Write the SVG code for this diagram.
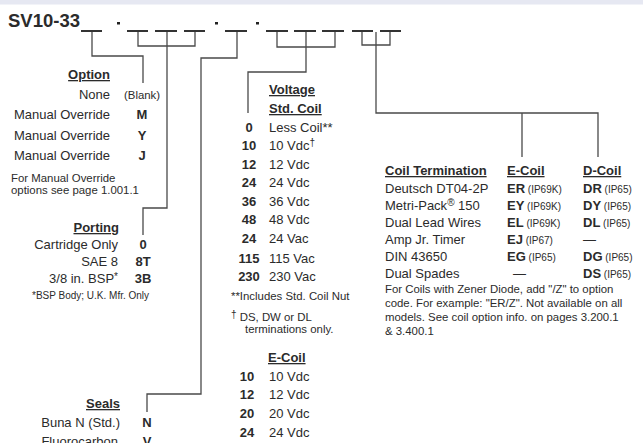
<svg xmlns="http://www.w3.org/2000/svg" width="643" height="443" viewBox="0 0 643 443">
<style>
text{font-family:"Liberation Sans",Arial,sans-serif;fill:#2b2b2b;font-size:13px}
.b{font-weight:bold}
.h{font-weight:bold;text-decoration:underline}
.s{font-size:10px}
.n{font-size:11.4px}
.e{text-anchor:end}
.m{text-anchor:middle}
.ln{fill:none;stroke:#4a4a4a;stroke-width:1.3}
.bl{stroke:#333;stroke-width:2}
</style>
<rect x="0" y="0" width="643" height="443" fill="#fff"/>
<rect x="0" y="0" width="643" height="4.5" fill="#e6e8f2"/>
<g id="part-number">
<text x="8" y="27" class="b" style="font-size:18.5px">SV10-33</text>
<g class="bl">
<line x1="81" y1="31" x2="102" y2="31"/>
<line x1="127" y1="31" x2="148" y2="31"/>
<line x1="155" y1="31" x2="177" y2="31"/>
<line x1="184" y1="31" x2="205" y2="31"/>
<line x1="225" y1="31" x2="247" y2="31"/>
<line x1="266" y1="31" x2="288" y2="31"/>
<line x1="294" y1="31" x2="316" y2="31"/>
<line x1="322" y1="31" x2="344" y2="31"/>
<line x1="352" y1="31" x2="373" y2="31"/>
<line x1="380" y1="31" x2="401" y2="31"/>
</g>
<rect x="117" y="22" width="3" height="2.5" fill="#222"/>
<rect x="215" y="22" width="3" height="2.5" fill="#222"/>
<rect x="256" y="22" width="3" height="2.5" fill="#222"/>
</g>
<g id="connectors" class="ln">
<path d="M92,32 V56 H143 V83"/>
<path d="M138,32 V46 H195 V32 M167,32 V208 H143 V235"/>
<path d="M237,32 V58 H201 V394 H147 V412"/>
<path d="M277,32 V47 H335 V32 M306,32 V72 H248 V113"/>
<path d="M362,32 V45 H390 V32 M376,32 V113 H598 V157 M522,113 V157"/>
</g>
<g id="option">
<text x="110" y="79" class="h e">Option</text>
<text x="110" y="99" class="e">None</text><text x="124" y="99" class="n">(Blank)</text>
<text x="110" y="119" class="e">Manual Override</text><text x="142" y="119" class="b m">M</text>
<text x="110" y="140" class="e">Manual Override</text><text x="142" y="140" class="b m">Y</text>
<text x="110" y="160" class="e">Manual Override</text><text x="142" y="160" class="b m">J</text>
<text x="11" y="182" class="n">For Manual Override</text>
<text x="11" y="194" class="n">options see page 1.001.1</text>
</g>
<g id="porting">
<text x="119" y="232" class="h e">Porting</text>
<text x="118" y="249" class="e">Cartridge Only</text><text x="143" y="249" class="b m">0</text>
<text x="118" y="266" class="e">SAE 8</text><text x="143" y="266" class="b m">8T</text>
<text x="118" y="283" class="e">3/8 in. BSP<tspan class="s" dy="-3">*</tspan></text><text x="143" y="283" class="b m">3B</text>
<text x="32" y="299" class="s">*BSP Body; U.K. Mfr. Only</text>
</g>
<g id="seals">
<text x="120" y="408" class="h e">Seals</text>
<text x="120" y="427" class="e">Buna N (Std.)</text><text x="147" y="427" class="b m">N</text>
<text x="118" y="446" class="e">Fluorocarbon</text><text x="147" y="446" class="b m">V</text>
</g>
<g id="voltage">
<text x="269" y="94" class="h">Voltage</text>
<text x="269" y="113" class="h">Std. Coil</text>
<text x="249" y="132" class="b m">0</text><text x="269" y="132">Less Coil**</text>
<text x="249" y="150" class="b m">10</text><text x="269" y="150">10 Vdc<tspan class="s" dy="-4">†</tspan></text>
<text x="249" y="169" class="b m">12</text><text x="269" y="169">12 Vdc</text>
<text x="249" y="187" class="b m">24</text><text x="269" y="187">24 Vdc</text>
<text x="249" y="206" class="b m">36</text><text x="269" y="206">36 Vdc</text>
<text x="249" y="224" class="b m">48</text><text x="269" y="224">48 Vdc</text>
<text x="249" y="243" class="b m">24</text><text x="269" y="243">24 Vac</text>
<text x="249" y="263" class="b m">115</text><text x="269" y="263">115 Vac</text>
<text x="249" y="281" class="b m">230</text><text x="269" y="281">230 Vac</text>
<text x="231" y="300" class="n">**Includes Std. Coil Nut</text>
<text x="231" y="321" class="n"><tspan class="s" dy="-3">†</tspan><tspan dy="3"> DS, DW or DL</tspan></text>
<text x="245" y="333" class="n">terminations only.</text>
<text x="268" y="362" class="h">E-Coil</text>
<text x="247" y="381" class="b m">10</text><text x="269" y="381">10 Vdc</text>
<text x="247" y="399" class="b m">12</text><text x="269" y="399">12 Vdc</text>
<text x="247" y="418" class="b m">20</text><text x="269" y="418">20 Vdc</text>
<text x="247" y="437" class="b m">24</text><text x="269" y="437">24 Vdc</text>
</g>
<g id="coil-termination">
<text x="385" y="175" class="h">Coil Termination</text>
<text x="507" y="175" class="h">E-Coil</text>
<text x="583" y="175" class="h">D-Coil</text>
<text x="385" y="193">Deutsch DT04-2P</text><text x="507" y="193"><tspan class="b">ER</tspan><tspan class="s"> (IP69K)</tspan></text><text x="583" y="193"><tspan class="b">DR</tspan><tspan class="s"> (IP65)</tspan></text>
<text x="385" y="210">Metri-Pack<tspan class="s" dy="-4">®</tspan><tspan dy="4"> 150</tspan></text><text x="507" y="210"><tspan class="b">EY</tspan><tspan class="s"> (IP69K)</tspan></text><text x="583" y="210"><tspan class="b">DY</tspan><tspan class="s"> (IP65)</tspan></text>
<text x="385" y="227">Dual Lead Wires</text><text x="507" y="227"><tspan class="b">EL</tspan><tspan class="s"> (IP69K)</tspan></text><text x="583" y="227"><tspan class="b">DL</tspan><tspan class="s"> (IP65)</tspan></text>
<text x="385" y="244">Amp Jr. Timer</text><text x="507" y="244"><tspan class="b">EJ</tspan><tspan class="s"> (IP67)</tspan></text><text x="583" y="244">—</text>
<text x="385" y="261">DIN 43650</text><text x="507" y="261"><tspan class="b">EG</tspan><tspan class="s"> (IP65)</tspan></text><text x="583" y="261"><tspan class="b">DG</tspan><tspan class="s"> (IP65)</tspan></text>
<text x="385" y="278">Dual Spades</text><text x="513" y="278">—</text><text x="583" y="278"><tspan class="b">DS</tspan><tspan class="s"> (IP65)</tspan></text>
<text x="385" y="293" class="n">For Coils with Zener Diode, add "/Z" to option</text>
<text x="385" y="307" class="n">code. For example: "ER/Z". Not available on all</text>
<text x="385" y="321" class="n">models. See coil option info. on pages 3.200.1</text>
<text x="385" y="335" class="n">&amp; 3.400.1</text>
</g>
</svg>
